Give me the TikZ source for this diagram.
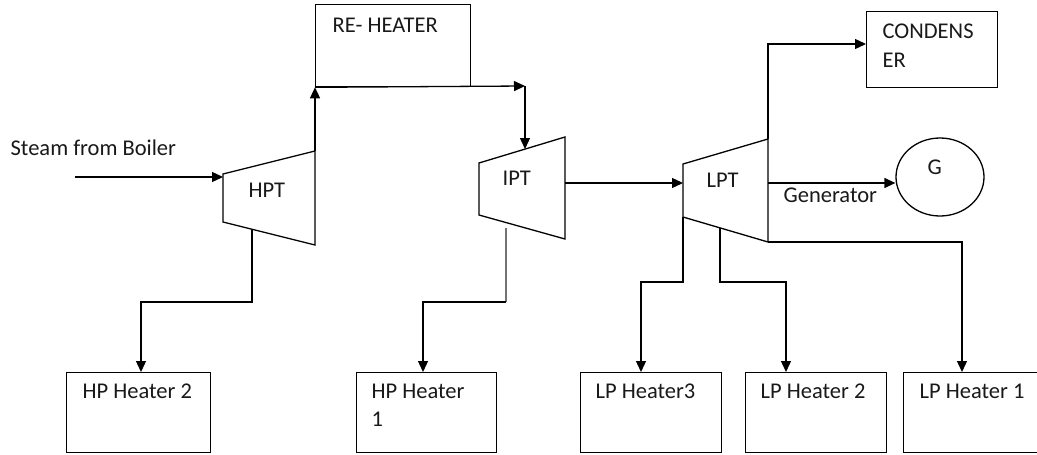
\documentclass[tikz,border=0pt]{standalone}
\usepackage{fontspec}
\setmainfont{Carlito}
\usetikzlibrary{arrows.meta,shapes.geometric}
\begin{document}
\begin{tikzpicture}[x=1pt,y=-1pt,line width=1.3pt,
  box/.style={draw,line width=1.3pt,inner sep=0pt,anchor=north west},
  lbl/.style={anchor=base west,inner sep=0pt,text=black!90,font=\fontsize{22.5}{27}\selectfont},
  flow/.style={-{Triangle[length=11pt,width=10pt]}},
  turb/.style={draw,line width=1.3pt,line join=miter},
  tapgray/.style={draw=black!55}]
\useasboundingbox (0,0) rectangle (1037,455);
\clip (0,0) rectangle (1037,455);

% boxes
\node[box,minimum width=155pt,minimum height=82pt] (rh) at (315,4) {};
\node[box,minimum width=131pt,minimum height=76pt] (cond) at (866,11) {};
\node[box,minimum width=144pt,minimum height=80pt] (hp2) at (66,372) {};
\node[box,minimum width=140pt,minimum height=80pt] (hp1) at (356,372) {};
\node[box,minimum width=141pt,minimum height=80pt] (lp3) at (580,372) {};
\node[box,minimum width=141pt,minimum height=80pt] (lp2) at (745,372) {};
\node[box,minimum width=150pt,minimum height=80pt] (lp1) at (903,372) {};
\node[draw,ellipse,inner sep=0pt,minimum width=88pt,minimum height=78pt] (gen) at (940,177) {};

% turbines
\coordinate (h1) at (223,174); \coordinate (h2) at (315,151);
\coordinate (h3) at (315,245); \coordinate (h4) at (223,222);
\coordinate (i1) at (479,163); \coordinate (i2) at (565,137);
\coordinate (i3) at (565,239); \coordinate (i4) at (479,215);
\coordinate (l1) at (683,164); \coordinate (l2) at (768,139);
\coordinate (l3) at (768,242); \coordinate (l4) at (683,217);
\draw[turb] (h1) -- (h2) -- (h3) -- (h4) -- cycle;
\draw[turb] (i1) -- (i2) -- (i3) -- (i4) -- cycle;
\draw[turb] (l1) -- (l2) -- (l3) -- (l4) -- cycle;

% labels
\node[lbl] (tsteam) at (10,155) {Steam from Boiler};
\node[lbl] (trh) at (332,32) {RE- HEATER};
\node[lbl] (thpt) at (248,197) {HPT};
\node[lbl] (tipt) at (502,185) {IPT};
\node[lbl] (tlpt) at (706,187) {LPT};
\node[lbl] (tc1) at (882,38) {CONDENS};
\node[lbl] (tc2) at (882,67) {ER};
\node[lbl] (tg) at (927,174) {G};
\node[lbl] (tgen) at (783,202) {Generator};
\node[lbl] (thp2) at (82,398) {HP Heater 2};
\node[lbl] (thp1a) at (371,398) {HP Heater};
\node[lbl] (thp1b) at (371,426) {1};
\node[lbl] (tlp3) at (595,398) {LP Heater3};
\node[lbl] (tlp2) at (760,398) {LP Heater 2};
\node[lbl] (tlp1) at (919,398) {LP Heater 1};

% connector points
\coordinate (s0) at (75,177);   \coordinate (hin) at (223,177);
\coordinate (rhR) at (525,86);  \coordinate (iin) at (525,149);
\coordinate (iout) at (565,183); \coordinate (lin) at (683,183);
\coordinate (lgo) at (768,183);
\coordinate (cUp) at (768,44);  \coordinate (cIn) at (866,44);
\coordinate (b1) at (962,242);
\coordinate (htap) at (252,229); \coordinate (ht1) at (252,302); \coordinate (ht2) at (141,302);
\coordinate (itap) at (506,228); \coordinate (it1) at (506,302); \coordinate (it2) at (423,302);
\coordinate (la1) at (683,282); \coordinate (la2) at (641,282);
\coordinate (lbt) at (720,228); \coordinate (lb1) at (720,282); \coordinate (lb2) at (786,282);

% connectors
\draw[flow] (s0) -- (hin);
\draw[flow] (h2) -- (rh.south west);
\draw[flow] (rh.south west) -- (rhR);
\draw[flow] (rhR) -- (iin);
\draw[flow] (iout) -- (lin);
\draw[flow] (l2) -- (cUp) -- (cIn);
\draw[flow] (lgo) -- (gen.west |- lgo);
\draw[flow] (l3) -- (b1) -- (b1 |- lp1.north);
\draw[flow] (htap) -- (ht1) -- (ht2) -- (ht2 |- hp2.north);
\draw[tapgray] (itap) -- (it1);
\draw[flow] (it1) -- (it2) -- (it2 |- hp1.north);
\draw[flow] (l4) -- (la1) -- (la2) -- (la2 |- lp3.north);
\draw[flow] (lbt) -- (lb1) -- (lb2) -- (lb2 |- lp2.north);
\end{tikzpicture}
\end{document}
